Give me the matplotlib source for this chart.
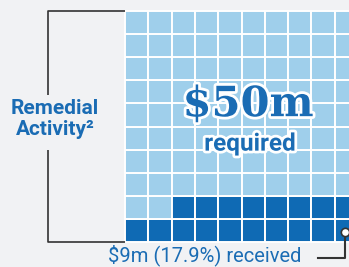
import matplotlib
matplotlib.use("Agg")
import matplotlib.pyplot as plt
import matplotlib.patheffects as pe
import numpy as np

# ----------
# Data
#
required = 50          # $m
received = 9           # $m
received_pct = 17.9    # %
n_cols = 10
n_rows = 10
label_left = ["Remedial", "Activity²"]
label_total = "$%dm" % required
label_total_sub = "required"
label_received = "$%dm (%.1f%%) received" % (received, received_pct)

# ----------
# Style
#
bg = "#f1f2f4"
light = "#9fcfeb"
dark = "#0f6ab4"
text_blue = "#1a6cb4"
line_col = "#333333"
sans = ["Roboto", "DejaVu Sans"]

fig = plt.figure(figsize=(3.49, 2.67), dpi=100, facecolor=bg)
ax = fig.add_axes([0, 0, 1, 1])
ax.set_facecolor(bg)
ax.set_xlim(-5.36, 9.61)
ax.set_ylim(-1.08, 10.48)
ax.axis("off")

# cells filled from bottom row, then right to left on the next row
n_dark = int(round(n_cols * n_rows * received_pct / 100.0))
for row in range(n_rows):
    cols = np.arange(n_cols)
    order = row * n_cols + (n_cols - 1 - cols)
    colors = [dark if o < n_dark else light for o in order]
    ax.bar(cols + 0.5, 1, bottom=row, width=1, color=colors,
           edgecolor="white", linewidth=1.4)

# bracket on the left
bx = -3.3
ax.plot([0, bx, bx], [n_rows, n_rows, 6.36], color=line_col, lw=1.2,
        solid_capstyle="butt")
ax.plot([bx, bx, 0], [3.98, 0, 0], color=line_col, lw=1.2, solid_capstyle="butt")

ax.text(-3.0, 5.78, label_left[0], ha="center", va="center", color=text_blue,
        fontsize=15, fontweight="bold", family=sans)
ax.text(-3.0, 4.86, label_left[1], ha="center", va="center", color=text_blue,
        fontsize=15, fontweight="bold", family=sans)

# total label
outline = [pe.withStroke(linewidth=4, foreground="white")]
ax.text(5.28, 5.97, label_total, ha="center", va="center", color=text_blue,
        fontsize=30, fontweight="bold", family="DejaVu Serif", path_effects=outline)
ax.text(5.36, 4.24, label_total_sub, ha="center", va="center", color=text_blue,
        fontsize=17.5, fontweight="bold", family=sans, path_effects=outline)

# received callout
ax.text(3.43, -0.56, label_received, ha="center", va="center", color=text_blue,
        fontsize=14.5, family=sans)
ax.plot([9.44, 9.44, 8.28], [0.45, -0.69, -0.69], color=line_col, lw=1.5)
ax.plot([9.44], [0.45], "o", ms=6, mfc="white", mec=line_col, mew=1.2)

fig.savefig("out.png", dpi=100, facecolor=bg)
